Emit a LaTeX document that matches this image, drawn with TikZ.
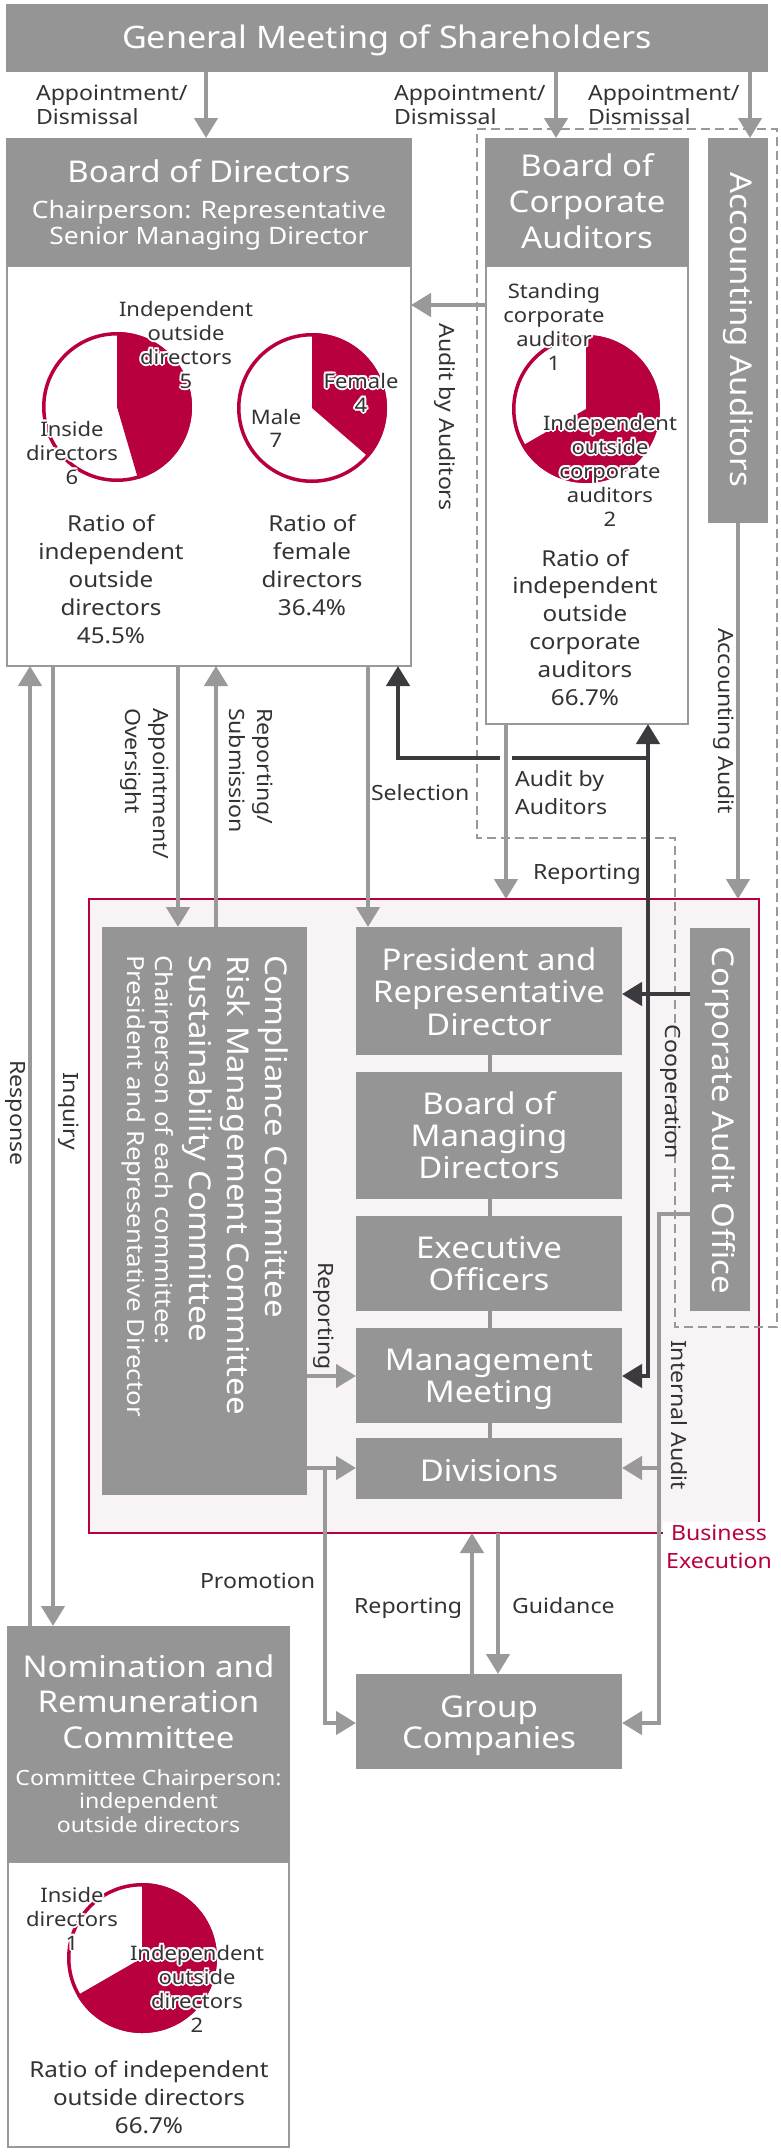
\documentclass[tikz,border=0pt]{standalone}
\usepackage{fontspec}
\setmainfont{Noto Sans}[FakeStretch=1.1]
\usetikzlibrary{arrows.meta,calc}
\definecolor{boxgrey}{HTML}{959595}
\definecolor{linegrey}{HTML}{999999}
\definecolor{darkline}{HTML}{3A3A3F}
\definecolor{txt}{HTML}{333333}
\definecolor{brand}{HTML}{B9003F}
\definecolor{pinkbg}{HTML}{F8F3F4}
\newcommand\fsz[1]{\fontsize{#1}{#1}\selectfont}
% name, style, x, y0, dy, list
\newcommand\stackat[6]{%
  \foreach \ln [count=\i] in {#6} {\node[anchor=base,#2] (#1-\i) at (#3,{#4+(\i-1)*#5}) {\ln};}}
\newcommand\hstackat[6]{%
  \foreach \ln [count=\i] in {#6} {%
    \foreach \dx/\dy [count=\j] in {-2/0,2/0,0/-2,0/2,-1.4/-1.4,1.4/-1.4,-1.4/1.4,1.4/1.4} {%
      \node[anchor=base,#2,text=white] (#1-\i-h\j) at ({#3+\dx},{#4+(\i-1)*#5+\dy}) {\ln};}
    \node[anchor=base,#2] (#1-\i) at (#3,{#4+(\i-1)*#5}) {\ln};}}
\begin{document}
\begin{tikzpicture}[x=1pt,y=-1pt,
  every node/.style={inner sep=0pt,outer sep=0pt},
  gbox/.style={fill=boxgrey},
  wbox/.style={fill=white,draw=linegrey,line width=2.5pt},
  garr/.style={draw=linegrey,line width=4.5pt,-{Triangle[length=20pt,width=23pt]}},
  darr/.style={draw=darkline,line width=4.5pt,-{Triangle[length=20pt,width=23pt]}},
  darrb/.style={draw=darkline,line width=4.5pt,{Triangle[length=20pt,width=23pt]}-{Triangle[length=20pt,width=23pt]}},
  conn/.style={draw=boxgrey,line width=4pt},
  lbl/.style={text=txt,font=\fsz{21}},
  lblp/.style={text=txt,font=\fsz{20}},
  lblr/.style={text=txt,font=\fsz{22}},
  ttl/.style={text=white,font=\fsz{30}},
  pie/.style={fill=brand},
  ring/.style={draw=brand,line width=3.5pt}]
\useasboundingbox (0,0) rectangle (780,2152);
\fill[white] (0,0) rectangle (780,2152);

% business execution area
\node[fill=pinkbg,draw=brand,line width=2.5pt,minimum width=670pt,minimum height=634pt] (exec) at (424,1216) {};

% dashed auditors region
\draw[linegrey,line width=1.8pt,dash pattern=on 9pt off 5pt] (477,129) -- (777,129) -- (777,1327) -- (675,1327) -- (675,838) -- (477,838) -- cycle;

% boxes
\node[gbox,minimum width=762pt,minimum height=68pt] (gm) at (387,38) {};
\node[wbox,minimum width=404pt,minimum height=400pt] (bodb) at (209,466) {};
\node[gbox,minimum width=406pt,minimum height=128pt] (bodh) at (209,202) {};
\node[wbox,minimum width=202pt,minimum height=458pt] (bocab) at (587,495) {};
\node[gbox,minimum width=204pt,minimum height=128pt] (bocah) at (587,202) {};
\node[gbox,minimum width=60pt,minimum height=385pt] (acc) at (738,330.5) {};
\node[gbox,minimum width=205pt,minimum height=568pt] (comp) at (204.5,1211) {};
\node[gbox,minimum width=266pt,minimum height=128pt] (pres) at (489,991) {};
\node[gbox,minimum width=266pt,minimum height=127pt] (bomd) at (489,1135.5) {};
\node[gbox,minimum width=266pt,minimum height=95pt] (exo) at (489,1263.5) {};
\node[gbox,minimum width=266pt,minimum height=95pt] (mm) at (489,1375.5) {};
\node[gbox,minimum width=266pt,minimum height=61pt] (div) at (489,1468.5) {};
\node[gbox,minimum width=60pt,minimum height=383pt] (cao) at (720,1119.5) {};
\node[gbox,minimum width=266pt,minimum height=95pt] (grp) at (489,1721.5) {};
\node[wbox,minimum width=281pt,minimum height=285pt] (nrcb) at (148.5,2004.5) {};
\node[gbox,minimum width=283pt,minimum height=236pt] (nrch) at (148.5,1744) {};

% pies
\coordinate (p1c) at (117,407);
\coordinate (p2c) at (312,408);
\coordinate (p3c) at (586,409);
\coordinate (p4c) at (142,1958);
\fill[pie] (p1c) -- ++(0,-75) arc[start angle=-90,end angle=73.64,radius=75] -- cycle;
\draw[ring] (p1c) circle[radius=73.25];
\fill[pie] (p2c) -- ++(0,-75) arc[start angle=-90,end angle=40.91,radius=75] -- cycle;
\draw[ring] (p2c) circle[radius=73.25];
\fill[pie] (p3c) -- ++(0,-74) arc[start angle=-90,end angle=150,radius=74] -- cycle;
\draw[ring] (p3c) circle[radius=72.25];
\fill[pie] (p4c) -- ++(0,-75) arc[start angle=-90,end angle=150,radius=75] -- cycle;
\draw[ring] (p4c) circle[radius=73.25];

% coordinates for connectors
\coordinate (xa) at (206,0);
\coordinate (xb) at (556,0);
\coordinate (xc) at (750,0);
\coordinate (yaba) at (0,305);
\coordinate (xresp) at (30,0);
\coordinate (xinq) at (53,0);
\coordinate (xao) at (178,0);
\coordinate (xrs) at (216,0);
\coordinate (xsel) at (368,0);
\coordinate (xdk) at (398,0);
\coordinate (xdv) at (648,0);
\coordinate (xrep) at (506,0);
\coordinate (xacc) at (738,0);
\coordinate (ydk) at (0,758);
\coordinate (ycoop) at (0,994);
\coordinate (ymm) at (0,1376);
\coordinate (ydiv) at (0,1468);
\coordinate (xprom) at (325,0);
\coordinate (ygrp) at (0,1723);
\coordinate (xgr) at (472,0);
\coordinate (xgd) at (498,0);
\coordinate (yint) at (0,1214);
\coordinate (xint) at (659,0);
\coordinate (xmid) at (490,0);

% connectors inside execution stack
\draw[conn] (pres.south -| xmid) -- (bomd.north -| xmid);
\draw[conn] (bomd.south -| xmid) -- (exo.north -| xmid);
\draw[conn] (exo.south -| xmid) -- (mm.north -| xmid);
\draw[conn] (mm.south -| xmid) -- (div.north -| xmid);

% grey arrows
\draw[garr] (gm.south -| xa) -- (bodh.north -| xa);
\draw[garr] (gm.south -| xb) -- (bocah.north -| xb);
\draw[garr] (gm.south -| xc) -- (acc.north -| xc);
\draw[garr] (bocab.west |- yaba) -- (bodb.east |- yaba);
\draw[garr] (nrch.north -| xresp) -- (bodb.south -| xresp);
\draw[garr] (bodb.south -| xinq) -- (nrch.north -| xinq);
\draw[garr] (bodb.south -| xao) -- (comp.north -| xao);
\draw[garr] (comp.north -| xrs) -- (bodb.south -| xrs);
\draw[garr] (bodb.south -| xsel) -- (pres.north -| xsel);

% dark arrows
\draw[darr] (xdv |- ydk) -- (xdk |- ydk) -- (bodb.south -| xdk);
\draw[darrb] (bocab.south -| xdv) -- (xdv |- ymm) -- (mm.east |- ymm);
\draw[darr] (cao.west |- ycoop) -- (pres.east |- ycoop);
\draw[white,line width=6pt] ($(xrep |- ydk)+(-6,0)$) -- ($(xrep |- ydk)+(6,0)$);

\draw[garr] (bocab.south -| xrep) -- (exec.north -| xrep);
\draw[garr] (acc.south -| xacc) -- (exec.north -| xacc);
\draw[garr] (comp.east |- ymm) -- (mm.west |- ymm);
\draw[garr] (comp.east |- ydiv) -- (div.west |- ydiv);
\draw[garr] (xprom |- ydiv) -- (xprom |- ygrp) -- (grp.west |- ygrp);
\draw[garr] (grp.north -| xgr) -- (exec.south -| xgr);
\draw[garr] (exec.south -| xgd) -- (grp.north -| xgd);
\draw[garr] (cao.west |- yint) -- (xint |- yint) -- (xint |- ygrp) -- (grp.east |- ygrp);
\draw[garr] (xint |- ydiv) -- (div.east |- ydiv);

% box texts
\stackat{gmt}{text=white,font=\fsz{31}}{387}{48}{0}{General Meeting of Shareholders}
\stackat{bodt}{ttl}{209}{182}{0}{Board of Directors}
\stackat{bods}{text=white,font=\fsz{24}}{209}{218}{26}{Chairperson: Representative,Senior Managing Director}
\stackat{bcat}{ttl}{587}{176}{36}{Board of,Corporate,Auditors}
\stackat{prt}{ttl}{489}{970}{32.5}{President and,Representative,Director}
\stackat{bmt}{ttl}{489}{1114}{32}{Board of,Managing,Directors}
\stackat{eot}{ttl}{489}{1258}{32}{Executive,Officers}
\stackat{mmt}{ttl}{489}{1370}{32}{Management,Meeting}
\stackat{dvt}{ttl}{489}{1481}{0}{Divisions}
\stackat{gct}{ttl}{489}{1717}{31}{Group,Companies}
\stackat{nrt}{ttl}{148.5}{1677}{35.5}{Nomination and,Remuneration,Committee}
\stackat{nrs}{text=white,font=\fsz{21}}{148.5}{1785}{23.5}{Committee Chairperson:,independent,outside directors}
\node[ttl,rotate=-90] (acct) at (738,330) {Accounting Auditors};
\node[ttl,rotate=-90] (caot) at (720,1120) {Corporate Audit Office};
\node[ttl,rotate=-90,anchor=base west] (ct1) at (265,955) {Compliance Committee};
\node[ttl,rotate=-90,anchor=base west] (ct2) at (227,955) {Risk Management Committee};
\node[ttl,rotate=-90,anchor=base west] (ct3) at (189,955) {Sustainability Committee};
\node[text=white,font=\fsz{23.5},rotate=-90,anchor=base west] (ct4) at (155,955) {Chairperson of each committee:};
\node[text=white,font=\fsz{23.5},rotate=-90,anchor=base west] (ct5) at (127,955) {President and Representative Director};

% pie labels
\hstackat{p1i}{lblp}{186}{316}{24}{Independent,outside,directors,5}
\hstackat{p1n}{lblp}{72}{436}{24}{Inside,directors,6}
\stackat{r1}{lblr}{111}{531}{28}{Ratio of,independent,outside,directors,45.5\%}
\hstackat{p2f}{lblp}{361}{388}{24}{Female,4}
\stackat{p2m}{lblp}{276}{424}{23}{Male,7}
\stackat{r2}{lblr}{312}{531}{28}{Ratio of,female,directors,36.4\%}
\hstackat{sca}{lblp}{554}{298}{24}{Standing,corporate,auditor,1}
\hstackat{bci}{lblp}{610}{430}{24}{Independent,outside,corporate,auditors,2}
\stackat{r3}{lblr}{585}{566}{27.8}{Ratio of,independent,outside,corporate,auditors,66.7\%}
\hstackat{p4n}{lblp}{72}{1902}{24}{Inside,directors,1}
\hstackat{p4i}{lblp}{197}{1960}{24}{Independent,outside,directors,2}
\stackat{r4}{lblr}{149}{2077}{28}{Ratio of independent,outside directors,66.7\%}

% connector labels
\stackat{ad1}{lbl,anchor=base west}{36}{100}{24}{Appointment/,Dismissal}
\stackat{ad2}{lbl,anchor=base west}{394}{100}{24}{Appointment/,Dismissal}
\stackat{ad3}{lbl,anchor=base west}{588}{100}{24}{Appointment/,Dismissal}
\node[lbl,rotate=-90] (aba) at (445,417) {Audit by Auditors};
\node[lbl,rotate=-90,anchor=base west] (ao1) at (153,708) {Appointment/};
\node[lbl,rotate=-90,anchor=base west] (ao2) at (125,708) {Oversight};
\node[lbl,rotate=-90,anchor=base west] (rs1) at (257,708) {Reporting/};
\node[lbl,rotate=-90,anchor=base west] (rs2) at (229,708) {Submission};
\stackat{sel}{lbl,anchor=base west}{371}{800}{0}{Selection}
\stackat{aba2}{lbl,anchor=base west}{515}{786}{28}{Audit by,Auditors}
\stackat{rpt}{lbl,anchor=base west}{533}{879}{0}{Reporting}
\node[lbl,rotate=-90] (acca) at (724,721) {Accounting Audit};
\node[lbl,rotate=-90] (resp) at (15,1113) {Response};
\node[lbl,rotate=-90] (inq) at (69,1111) {Inquiry};
\node[lbl,rotate=-90] (rep2) at (324,1316) {Reporting};
\node[lbl,rotate=-90] (coop) at (671,1092) {Cooperation};
\node[lbl,rotate=-90] (inta) at (679,1415) {Internal Audit};
\stackat{prom}{lbl,anchor=base west}{200}{1588}{0}{Promotion}
\stackat{rpb}{lbl,anchor=base east}{462}{1613}{0}{Reporting}
\stackat{gdc}{lbl,anchor=base west}{512}{1613}{0}{Guidance}

% business execution label
\fill[white] (663,1522) rectangle (776,1576);
\stackat{bex}{text=brand,font=\fsz{21}}{719}{1540}{28}{Business,Execution}
\end{tikzpicture}
\end{document}
